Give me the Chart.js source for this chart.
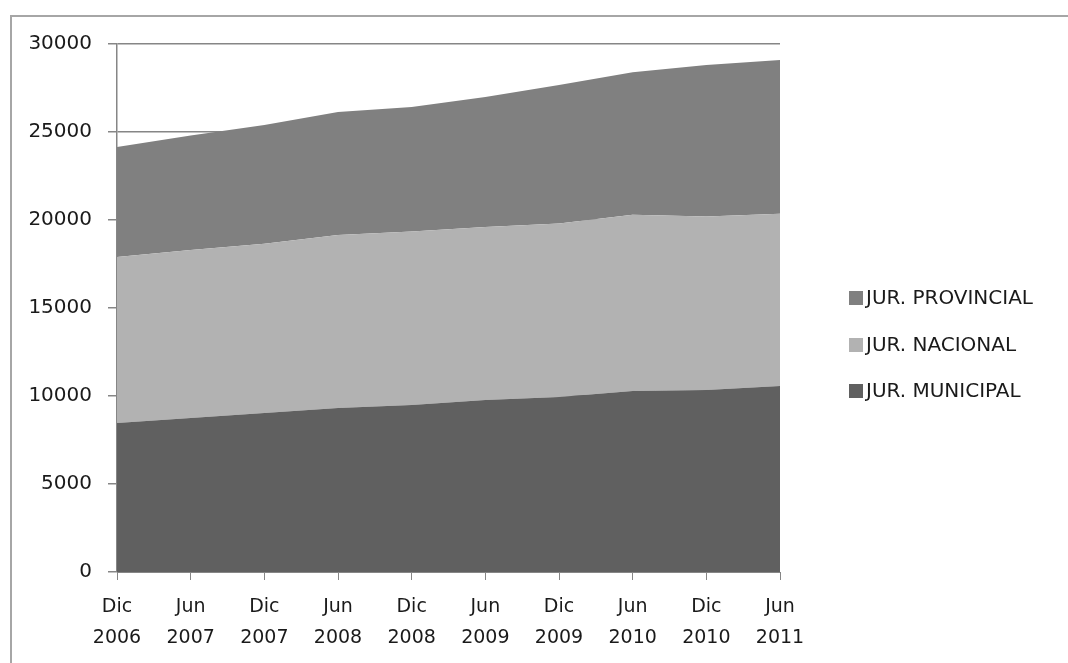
<!DOCTYPE html>
<html>
<head>
<meta charset="utf-8">
<script src="https://cdn.jsdelivr.net/npm/chart.js@4/dist/chart.umd.min.js"></script>
<style>
  body { margin: 0; background: #fff; }
  #frame { position: absolute; left: 10px; top: 15px; width: 1100px; height: 700px; border: 2px solid #a6a6a6; box-sizing: border-box; }
  #wrap { position: absolute; left: 0; top: 0; width: 1068px; height: 663px; }
  #legend { position: absolute; left: 849px; top: 284px; font-family: "DejaVu Sans", sans-serif; font-size: 20px; color: #1a1a1a; }
  #legend div { height: 46.5px; line-height: 26px; white-space: nowrap; }
  #legend span { display: inline-block; width: 14px; height: 14px; margin-right: 3px; vertical-align: -1px; }
</style>
</head>
<body>
<div id="frame"></div>
<div id="wrap"><canvas id="chart"></canvas></div>
<div id="legend"></div>
<script>
const periods = [
    ['Dic', '2006'], ['Jun', '2007'], ['Dic', '2007'], ['Jun', '2008'], ['Dic', '2008'],
    ['Jun', '2009'], ['Dic', '2009'], ['Jun', '2010'], ['Dic', '2010'], ['Jun', '2011'],
];

const municipal = [8470, 8750, 9030, 9320, 9490, 9770, 9940, 10280, 10340, 10570];
const nacional = [9430, 9550, 9620, 9830, 9860, 9830, 9860, 10020, 9860, 9780];
const provincial = [6250, 6500, 6750, 6990, 7070, 7390, 7870, 8100, 8600, 8740];

const series = [
    { label: 'JUR. MUNICIPAL', data: municipal, color: '#606060' },
    { label: 'JUR. NACIONAL', data: nacional, color: '#b2b2b2' },
    { label: 'JUR. PROVINCIAL', data: provincial, color: '#808080' },
];

const family = '"DejaVu Sans", sans-serif';

const config = {
    type: 'line',
    data: {
        labels: periods,
        datasets: series.map(function (s, i) {
            return {
                label: s.label,
                data: s.data,
                backgroundColor: s.color,
                borderColor: s.color,
                borderWidth: 0,
                pointRadius: 0,
                tension: 0,
                fill: i === 0 ? 'origin' : '-1',
            };
        }),
    },
    options: {
        responsive: true,
        maintainAspectRatio: false,
        animation: false,
        layout: { padding: { left: 0, top: 44, right: 288, bottom: 0 } },
        plugins: { legend: { display: false }, tooltip: { enabled: false } },
        scales: {
            x: {
                offset: false,
                grid: { drawOnChartArea: false, drawTicks: true, tickLength: 8, color: '#868686' },
                border: { color: '#868686', width: 1 },
                ticks: { color: '#1a1a1a', font: { family: family, size: 19, lineHeight: 1.63 }, padding: 12, maxRotation: 0, autoSkip: false },
                afterFit: function (s) { s.height = 91; },
            },
            y: {
                stacked: true,
                min: 0,
                max: 30000,
                ticks: {
                    stepSize: 5000, color: '#1a1a1a', font: { family: family, size: 20 }, padding: 16,
                    callback: function (v) { return String(v); },
                },
                grid: { color: '#868686', lineWidth: 1.5, tickLength: 9 },
                border: { color: '#868686', width: 1.5 },
                afterFit: function (s) { s.width = 117; },
            },
        },
    },
};

const myChart = new Chart(document.getElementById('chart'), config);

// leyenda en orden inverso, como en la planilla
const legend = document.getElementById('legend');
series.slice().reverse().forEach(function (s) {
    const row = document.createElement('div');
    row.innerHTML = '<span style="background:' + s.color + '"></span>' + s.label;
    legend.appendChild(row);
});
</script>
</body>
</html>
